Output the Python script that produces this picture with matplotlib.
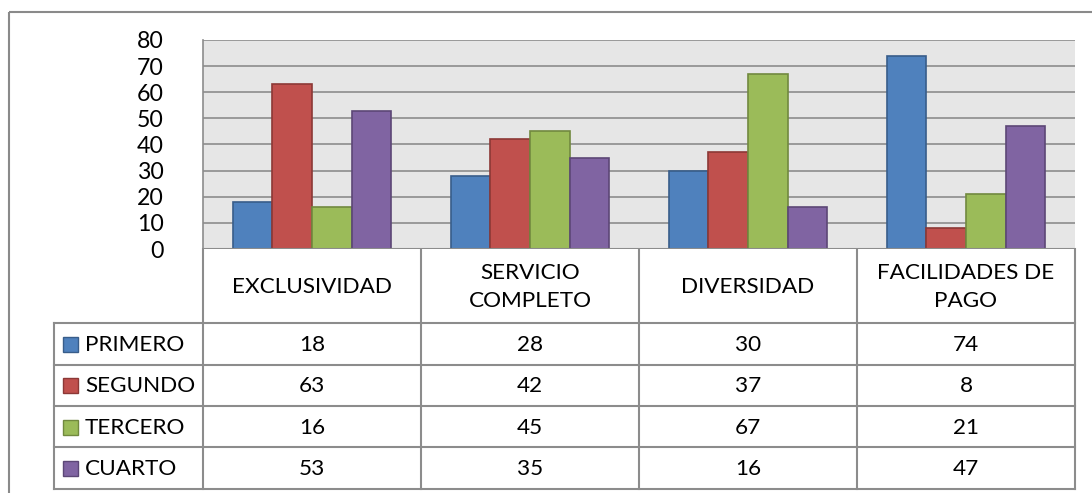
import numpy as np
import matplotlib.pyplot as plt

categories = ["EXCLUSIVIDAD", "SERVICIO\nCOMPLETO", "DIVERSIDAD", "FACILIDADES DE\nPAGO"]
series = ["PRIMERO", "SEGUNDO", "TERCERO", "CUARTO"]
primero = [18, 28, 30, 74]
segundo = [63, 42, 37, 8]
tercero = [16, 45, 67, 21]
cuarto = [53, 35, 16, 47]
values = [primero, segundo, tercero, cuarto]
yticks = [0, 10, 20, 30, 40, 50, 60, 70, 80]

colors = ["#4F81BD", "#C0504D", "#9BBB59", "#8064A2"]
edges = ["#385D8A", "#8C3836", "#71893F", "#5C4776"]

plt.rcParams['font.family'] = ['Lato', 'DejaVu Sans']
FS = 16.2
W, H = 1092, 493
fig = plt.figure(figsize=(W / 100, H / 100), dpi=100)

# pixel layout
px_left, px_right, px_top, px_bottom = 203, 1075, 40, 249
rows_y = [249, 323, 364.5, 406, 447, 488.5]
leg_left = 54

# overlay axes in pixel coords for border + table
ov = fig.add_axes([0, 0, 1, 1])
ov.set_xlim(0, W)
ov.set_ylim(H, 0)
ov.axis("off")
ov.add_patch(plt.Rectangle((9, 12), 1100, 500, fill=False, ec="#8a8a8a", lw=1.5))

# bar axes
ax = fig.add_axes([px_left / W, 1 - px_bottom / H, (px_right - px_left) / W, (px_bottom - px_top) / H])
ax.set_facecolor("#E6E6E6")
n = len(categories)
x = np.arange(n)
bw = 0.182
for i, vals in enumerate(values):
    ax.bar(x + (i - 1.5) * bw, vals, bw, color=colors[i], edgecolor=edges[i], lw=1.2, zorder=3)
ax.set_xlim(-0.5, n - 0.5)
ax.set_ylim(0, 80)
ax.set_yticks(yticks)
ax.yaxis.grid(True, color="#8c8c8c", lw=1.2, zorder=1)
ax.set_xticks([])
ax.tick_params(axis="y", length=0, pad=28, labelsize=FS + 0.5)
for s in ["top", "right", "bottom"]:
    ax.spines[s].set_visible(False)
ax.spines["left"].set_color("#8c8c8c")
ax.spines["left"].set_linewidth(1.2)
ax.axhline(0, color="#8c8c8c", lw=1.5, zorder=4)

# table
col_x = np.linspace(px_left, px_right, n + 1)
lc = "#8c8c8c"
lw = 1.5
for cx in col_x:
    ov.plot([cx, cx], [rows_y[0], rows_y[-1]], color=lc, lw=lw)
ov.plot([leg_left, leg_left], [rows_y[1], rows_y[-1]], color=lc, lw=lw)
for ry in rows_y[1:]:
    ov.plot([leg_left, px_right], [ry, ry], color=lc, lw=lw)

for j, cat in enumerate(categories):
    cx = (col_x[j] + col_x[j + 1]) / 2
    ov.text(cx, (rows_y[0] + rows_y[1]) / 2 + 1, cat, ha="center", va="center",
            fontsize=FS, linespacing=1.55)

for i, name in enumerate(series):
    cy = (rows_y[i + 1] + rows_y[i + 2]) / 2
    ov.add_patch(plt.Rectangle((leg_left + 9, cy - 7), 15, 15, fc=colors[i], ec=edges[i], lw=1))
    ov.text(leg_left + 31, cy + 1, name, ha="left", va="center", fontsize=FS)
    for j in range(n):
        cx = (col_x[j] + col_x[j + 1]) / 2
        ov.text(cx, cy + 1, str(values[i][j]), ha="center", va="center", fontsize=FS)

fig.savefig("out.png", dpi=100)
